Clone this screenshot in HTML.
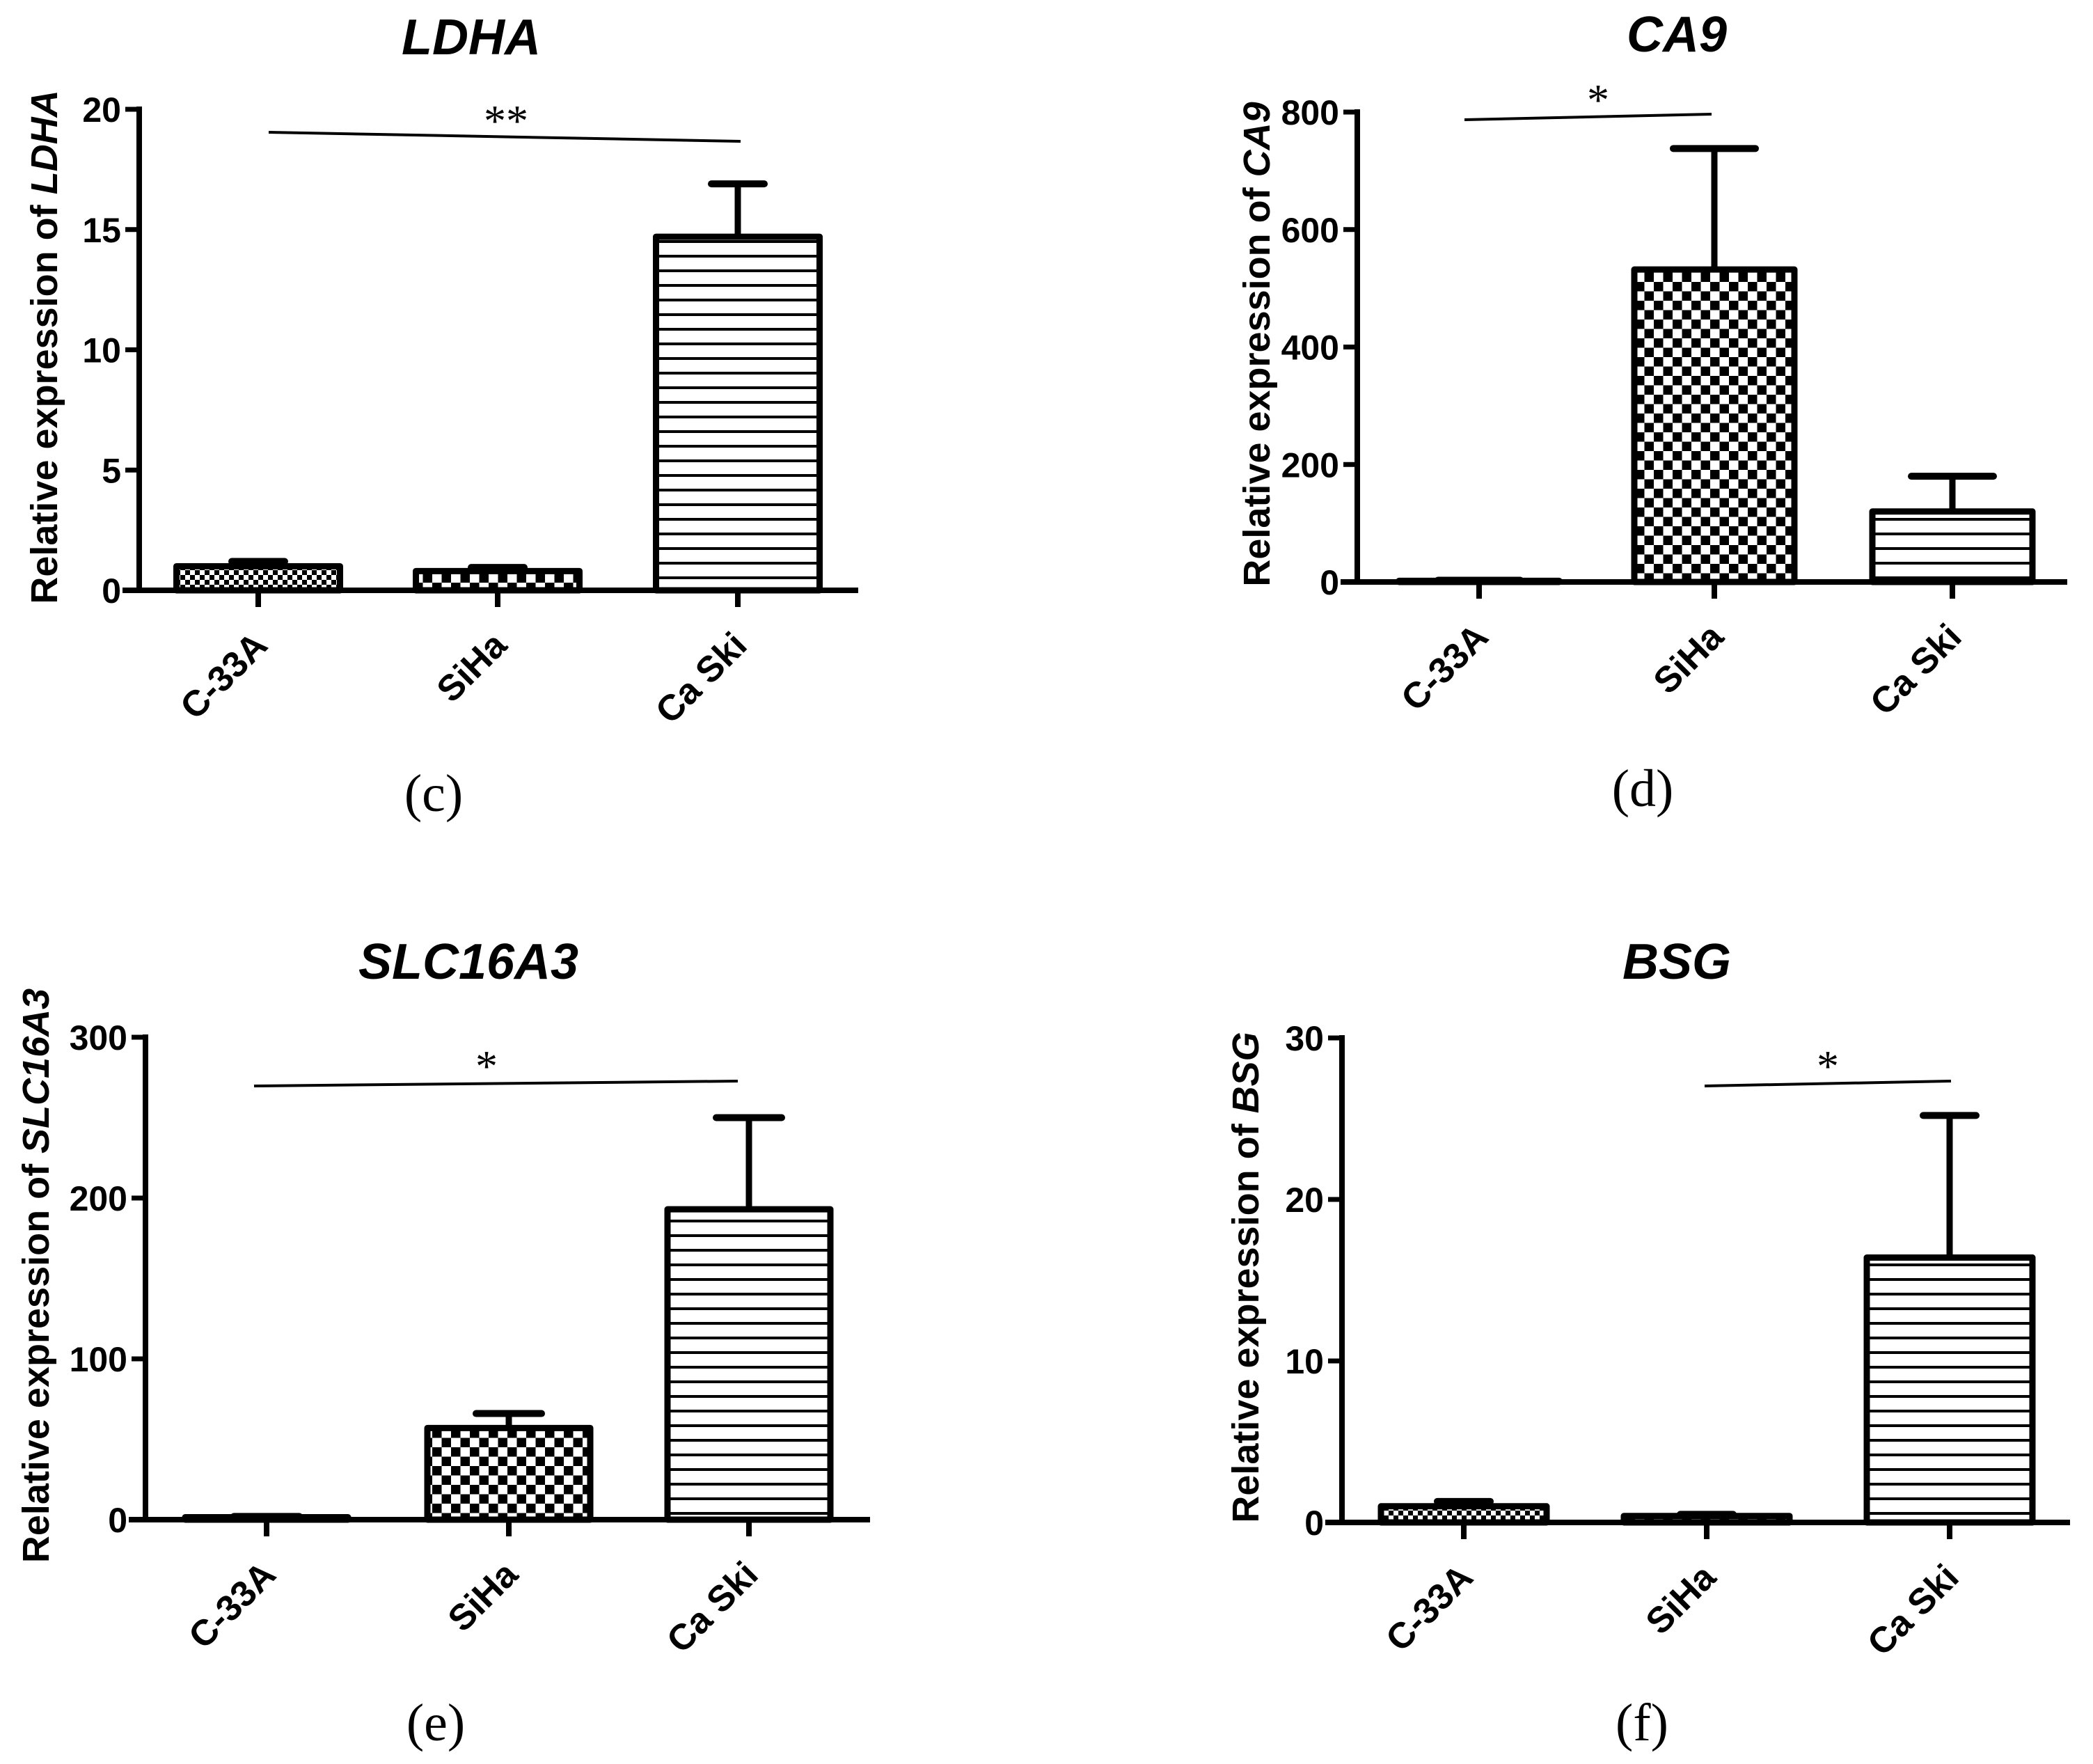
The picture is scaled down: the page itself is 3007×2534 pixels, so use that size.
<!DOCTYPE html>
<html><head><meta charset="utf-8"><style>
html,body{margin:0;padding:0;background:#fff}
svg{display:block}
text{font-family:"Liberation Sans",Arial,sans-serif;fill:#000}
.serif{font-family:"Liberation Serif",serif}
</style></head><body>
<svg id="fig" width="3007" height="2534" viewBox="0 0 3007 2534" xmlns="http://www.w3.org/2000/svg">
<defs>
<pattern id="fineChecker" width="14" height="14" patternUnits="userSpaceOnUse">
<rect width="14" height="14" fill="#000"/><rect x="0" y="0" width="7" height="7" fill="#fff"/><rect x="7" y="7" width="7" height="7" fill="#fff"/></pattern>
<pattern id="bigChecker" width="27" height="27" patternUnits="userSpaceOnUse">
<rect width="27" height="27" fill="#fff"/><rect x="0" y="0" width="13.5" height="13.5" fill="#000"/><rect x="13.5" y="13.5" width="13.5" height="13.5" fill="#000"/></pattern>
<pattern id="hLines" width="10" height="21" patternUnits="userSpaceOnUse">
<rect width="10" height="21" fill="#fff"/><rect x="0" y="9" width="10" height="4" fill="#000"/></pattern>
</defs>
</svg>
<script>
const categories = ["C-33A", "SiHa", "Ca Ski"];
const patterns = ["url(#fineChecker)", "url(#bigChecker)", "url(#hLines)"];

const ldhaValues = [1.0, 0.8, 14.7];
const ldhaErrors = [1.2, 0.95, 16.9];
const ldhaTicks = [0, 5, 10, 15, 20];

const ca9Values = [2, 532, 120];
const ca9Errors = [3, 738, 180];
const ca9Ticks = [0, 200, 400, 600, 800];

const slcValues = [1.5, 57, 193];
const slcErrors = [2, 66, 250];
const slcTicks = [0, 100, 200, 300];

const bsgValues = [1.0, 0.4, 16.4];
const bsgErrors = [1.3, 0.5, 25.2];
const bsgTicks = [0, 10, 20, 30];

const svg = document.getElementById('fig');
const NS = 'http://www.w3.org/2000/svg';
function mk(tag, attrs, parent) {
  const e = document.createElementNS(NS, tag);
  for (const k in attrs) e.setAttribute(k, attrs[k]);
  (parent || svg).appendChild(e);
  return e;
}

function panel(cfg, values, errors, ticks) {
  const g = mk('g', {});
  
  
  const ymax = ticks[ticks.length - 1];
  const yS = v => cfg.y0 - (cfg.y0 - cfg.yTop) * v / ymax;
  const t = mk('text', {x: cfg.titleX, y: cfg.titleY, 'text-anchor': 'middle', 'font-size': 72, 'font-weight': 'bold', 'font-style': 'italic'}, g);
  t.textContent = cfg.gene;
  
  
  const yl = mk('text', {x: 0, y: 0, 'text-anchor': 'middle', 'font-size': 54, 'font-weight': 'bold', transform: `translate(${cfg.ylabX},${(cfg.y0 + cfg.yTop) / 2 - 4}) rotate(-90)`}, g);
  
  
  const s1 = mk('tspan', {}, yl); s1.textContent = 'Relative expression of ';
  const s2 = mk('tspan', {'font-style': 'italic'}, yl); s2.textContent = cfg.gene;
  const ya = mk('line', {x1: cfg.ax, y1: cfg.yTop - 4, x2: cfg.ax, y2: cfg.y0 + 4, stroke: '#000', 'stroke-width': 8}, g);
  
  
  ticks.forEach(v => {
    const y = yS(v);
    const tl = mk('line', {x1: cfg.ax - 20, y1: y, x2: cfg.ax, y2: y, stroke: '#000', 'stroke-width': 7}, g);
    
    
    const tx = mk('text', {x: cfg.ax - 26, y: y + 18, 'text-anchor': 'end', 'font-size': 50, 'font-weight': 'bold'}, g);
    tx.textContent = v;
    
    
  });
  categories.forEach((c, i) => {
    const cx = cfg.ticksX[i];
    const yT = yS(values[i]);
    const ye = yS(errors[i]);
    const eb = mk('line', {x1: cx, y1: yT, x2: cx, y2: ye, stroke: '#000', 'stroke-width': 9}, g);
    
    
    const cap = mk('line', {x1: cx - cfg.cap, y1: ye, x2: cx + cfg.cap, y2: ye, stroke: '#000', 'stroke-width': 10, 'stroke-linecap': 'round'}, g);
    
    
    const h = Math.max(cfg.y0 - yT, 0.5);
    const b = mk('rect', {x: cx - cfg.bw / 2, y: yT, width: cfg.bw, height: h, fill: patterns[i], stroke: '#000', 'stroke-width': 9, 'stroke-linejoin': 'round'}, g);
    
    
    const xt = mk('line', {x1: cx, y1: cfg.y0, x2: cx, y2: cfg.y0 + 24, stroke: '#000', 'stroke-width': 8}, g);
    
    
    const lb = mk('text', {x: 0, y: 0, 'text-anchor': 'end', 'font-size': 52, 'font-weight': 'bold', transform: `translate(${cx + 16},${cfg.y0 + 82}) rotate(-45)`}, g);
    lb.textContent = c;
    
    
  });
  const xa = mk('line', {x1: cfg.ax - 24, y1: cfg.y0, x2: cfg.axEnd, y2: cfg.y0, stroke: '#000', 'stroke-width': 8}, g);
  
  
  const sl = mk('line', {x1: cfg.sig[0], y1: cfg.sig[1], x2: cfg.sig[2], y2: cfg.sig[3], stroke: '#000', 'stroke-width': 4}, g);
  
  
  const st = mk('text', {x: cfg.star[0], y: cfg.star[1], 'text-anchor': 'middle', 'font-size': 64, 'class': 'serif'}, g);
  st.textContent = cfg.stars;
  
  
  const pl = mk('text', {x: cfg.lab[0], y: cfg.lab[1], 'text-anchor': 'middle', 'font-size': 76, 'class': 'serif'}, g);
  pl.textContent = cfg.label;
  
  
}

panel({name: 'ldha', gene: 'LDHA', ax: 200, axEnd: 1233, y0: 848, yTop: 157, ticksX: [371, 715, 1060], bw: 235, cap: 38,
  titleX: 677, titleY: 78, ylabX: 82, sig: [386, 190, 1064, 203], star: [727, 195], stars: '**', label: '(c)', lab: [623, 1165]},
  ldhaValues, ldhaErrors, ldhaTicks);
panel({name: 'ca9', gene: 'CA9', ax: 1950, axEnd: 2970, y0: 836, yTop: 161, ticksX: [2125, 2463, 2805], bw: 230, cap: 59,
  titleX: 2409, titleY: 74, ylabX: 1824, sig: [2104, 172, 2459, 164], star: [2296, 165], stars: '*', label: '(d)', lab: [2360, 1158]},
  ca9Values, ca9Errors, ca9Ticks);
panel({name: 'slc16a3', gene: 'SLC16A3', ax: 209, axEnd: 1250, y0: 2183, yTop: 1490, ticksX: [383, 731, 1076], bw: 234, cap: 47,
  titleX: 673, titleY: 1406, ylabX: 70, sig: [365, 1560, 1060, 1553], star: [699, 1553], stars: '*', label: '(e)', lab: [626, 2500]},
  slcValues, slcErrors, slcTicks);
panel({name: 'bsg', gene: 'BSG', ax: 1928, axEnd: 2974, y0: 2187, yTop: 1491, ticksX: [2103, 2452, 2801], bw: 238, cap: 38,
  titleX: 2409, titleY: 1406, ylabX: 1808, sig: [2449, 1560, 2803, 1553], star: [2626, 1553], stars: '*', label: '(f)', lab: [2359, 2500]},
  bsgValues, bsgErrors, bsgTicks);
</script>
</body></html>
